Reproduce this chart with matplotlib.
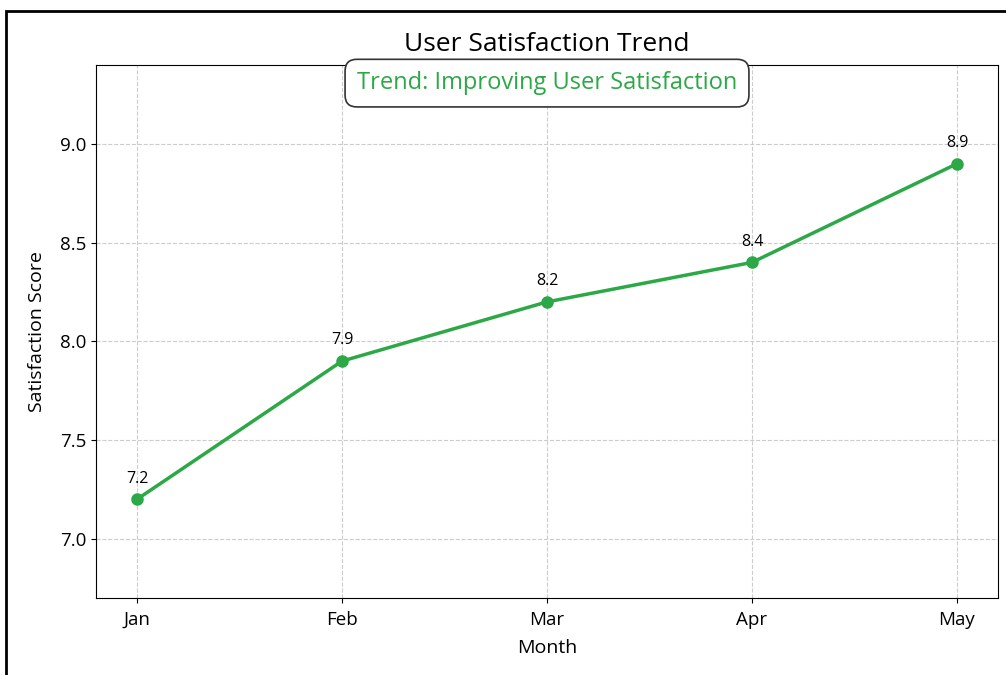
import matplotlib.pyplot as plt
from matplotlib.patches import Rectangle

plt.rcParams['font.family'] = ['Open Sans', 'DejaVu Sans']

# data
months = ["Jan", "Feb", "Mar", "Apr", "May"]
scores = [7.2, 7.9, 8.2, 8.4, 8.9]
trend_note = "Trend: Improving User Satisfaction"

green = "#2ca846"

fig = plt.figure(figsize=(10.06, 6.75), dpi=100)
ax = fig.add_axes([96 / 1006, 1 - 598 / 675, (998 - 96) / 1006, (598 - 65) / 675])

x = range(len(months))
ax.plot(x, scores, color=green, linewidth=2.5, marker="o", markersize=8)
for i, v in zip(x, scores):
    ax.annotate(f"{v}", (i, v), textcoords="offset points", xytext=(0, 12),
                ha="center", fontsize=11.5)

ax.set_xticks(list(x))
ax.set_xticklabels(months)
ax.set_ylim(6.7, 9.4)
ax.set_yticks([7.0, 7.5, 8.0, 8.5, 9.0])
ax.tick_params(labelsize=13.5)
ax.tick_params(axis="x", pad=6)
ax.grid(True, linestyle="--", color="#cccccc", linewidth=0.8)
ax.set_axisbelow(True)

ax.set_title("User Satisfaction Trend", fontsize=19, pad=10)
ax.set_xlabel("Month", fontsize=14, labelpad=7)
ax.set_ylabel("Satisfaction Score", fontsize=14, labelpad=10)

ax.text(0.5, 0.966, trend_note, transform=ax.transAxes, ha="center", va="center",
        fontsize=17, color=green,
        bbox=dict(boxstyle="round,pad=0.5", facecolor="white", edgecolor="#333333", linewidth=1.2))

# outer frame of the screenshot
fig.patches.append(Rectangle((6 / 1006, -0.1), 1.1, 1.1 - 11 / 675,
                             transform=fig.transFigure, fill=False,
                             edgecolor="black", linewidth=2))

fig.savefig("out.png", dpi=100)
